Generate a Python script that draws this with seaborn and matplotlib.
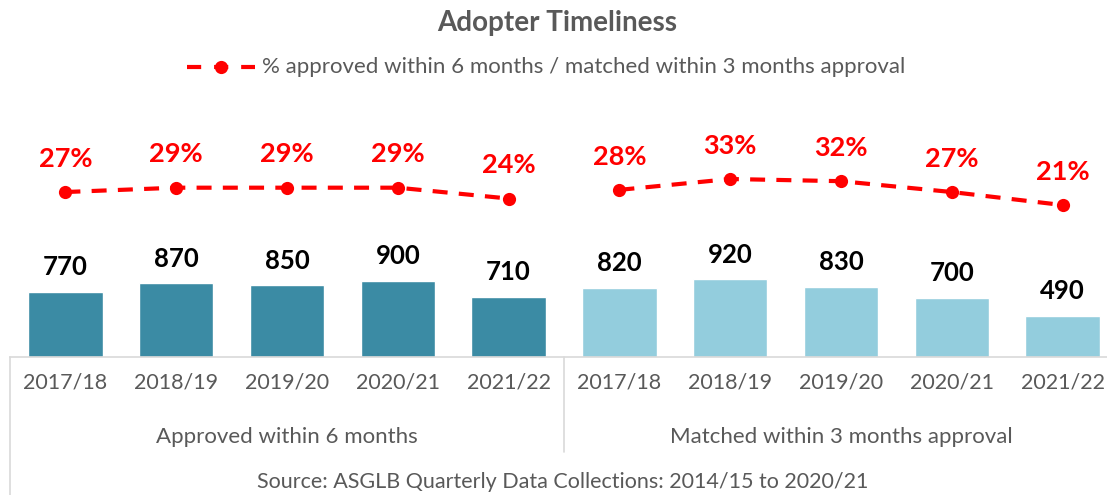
import matplotlib

matplotlib.use("Agg")

import matplotlib.pyplot as plt
import matplotlib.transforms as mtransforms
import pandas as pd
import seaborn as sns

years = ["2017/18", "2018/19", "2019/20", "2020/21", "2021/22"]
groups = ["Approved within 6 months", "Matched within 3 months approval"]
approved_counts = [770, 870, 850, 900, 710]
matched_counts = [820, 920, 830, 700, 490]
approved_pct = [0.27, 0.29, 0.29, 0.29, 0.24]
matched_pct = [0.28, 0.33, 0.32, 0.27, 0.21]

legend_label = "% approved within 6 months / matched within 3 months approval"
source_text = "Source: ASGLB Quarterly Data Collections: 2014/15 to 2020/21"

DARK = "#3B8BA4"
LIGHT = "#93CDDD"
RED = "#FF0000"
GREY_TEXT = "#595959"
GREY_LINE = "#D9D9D9"

df = pd.DataFrame({
    "slot": [str(i) for i in range(10)],
    "count": approved_counts + matched_counts,
    "pct": approved_pct + matched_pct,
    "group": [groups[0]] * 5 + [groups[1]] * 5,
    "year": years + years,
})
df["pos"] = range(10)

sns.set_style("white")
plt.rcParams["font.family"] = ["Lato", "DejaVu Sans"]

fig = plt.figure(figsize=(11.07, 4.95), dpi=100)
ax = fig.add_axes([10 / 1107, 1 - 357 / 495, 1108 / 1107, 257 / 495])

sns.barplot(
    data=df, x="slot", y="count", hue="group", dodge=False, saturation=1,
    palette=[DARK, LIGHT], width=0.67, legend=False, ax=ax,
)
for cont in ax.containers:
    ax.bar_label(cont, padding=9, fontsize=18.5, fontweight="bold", color="black")

ax.set_xlim(-0.5, 9.5)
ax.set_ylim(0, 3040)
ax.set_xticks(range(10))
ax.set_xticklabels(df["year"], fontsize=15.5, color=GREY_TEXT)
ax.tick_params(axis="x", length=0, pad=11)
ax.set_yticks([])
ax.set_xlabel("")
ax.set_ylabel("")
for s in ["top", "left", "right"]:
    ax.spines[s].set_visible(False)
ax.spines["bottom"].set_color(GREY_LINE)
ax.spines["bottom"].set_linewidth(1.2)

ax.axvline(4.5, ymin=-0.37, ymax=0, color=GREY_LINE, lw=1.2, clip_on=False)
ax.axvline(-0.5, ymin=-0.6, ymax=0, color=GREY_LINE, lw=1.2, clip_on=False)

trans = mtransforms.blended_transform_factory(ax.transData, ax.transAxes)
ax.text(2, -0.31, groups[0], transform=trans, ha="center", va="center",
        fontsize=16, color=GREY_TEXT)
ax.text(7, -0.31, groups[1], transform=trans, ha="center", va="center",
        fontsize=16, color=GREY_TEXT)

ax2 = ax.twinx()
for g in groups:
    sub = df[df["group"] == g]
    sns.lineplot(
        data=sub, x="pos", y="pct", color=RED, marker="o", markersize=9.5,
        markeredgewidth=0, linewidth=3, linestyle=(0, (3.6, 2.7)), ax=ax2,
    )
    for x, p in zip(sub["pos"], sub["pct"]):
        ax2.annotate(f"{p:.0%}", (x, p), xytext=(0, 24), textcoords="offset points",
                     ha="center", va="center", fontsize=19.5, fontweight="bold", color=RED)
ax2.set_ylim(-0.49, 0.694)
ax2.set_yticks([])
ax2.set_ylabel("")
ax2.set_xlabel("")
for s in ax2.spines.values():
    s.set_visible(False)

fig.text(557 / 1107, 1 - 23 / 495, "Adopter Timeliness", ha="center", va="center",
         fontsize=20, fontweight="bold", color=GREY_TEXT)

# legend drawn as a handle + text at top
lx = 187 / 1107
ly = 1 - 67 / 495
fig.lines.append(plt.Line2D([lx, lx + 68 / 1107], [ly, ly], transform=fig.transFigure,
                            color=RED, lw=3, linestyle=(0, (3.4, 3.1))))
fig.lines.append(plt.Line2D([lx + 34 / 1107], [ly], transform=fig.transFigure,
                            color=RED, marker="o", markersize=9.5, markeredgewidth=0))
fig.text(262 / 1107, ly, legend_label, ha="left", va="center", fontsize=16, color=GREY_TEXT)

fig.text(563 / 1107, 1 - 482 / 495, source_text, ha="center", va="center",
         fontsize=15.5, color=GREY_TEXT)

fig.savefig("out.png", dpi=100)
plt.close(fig)
